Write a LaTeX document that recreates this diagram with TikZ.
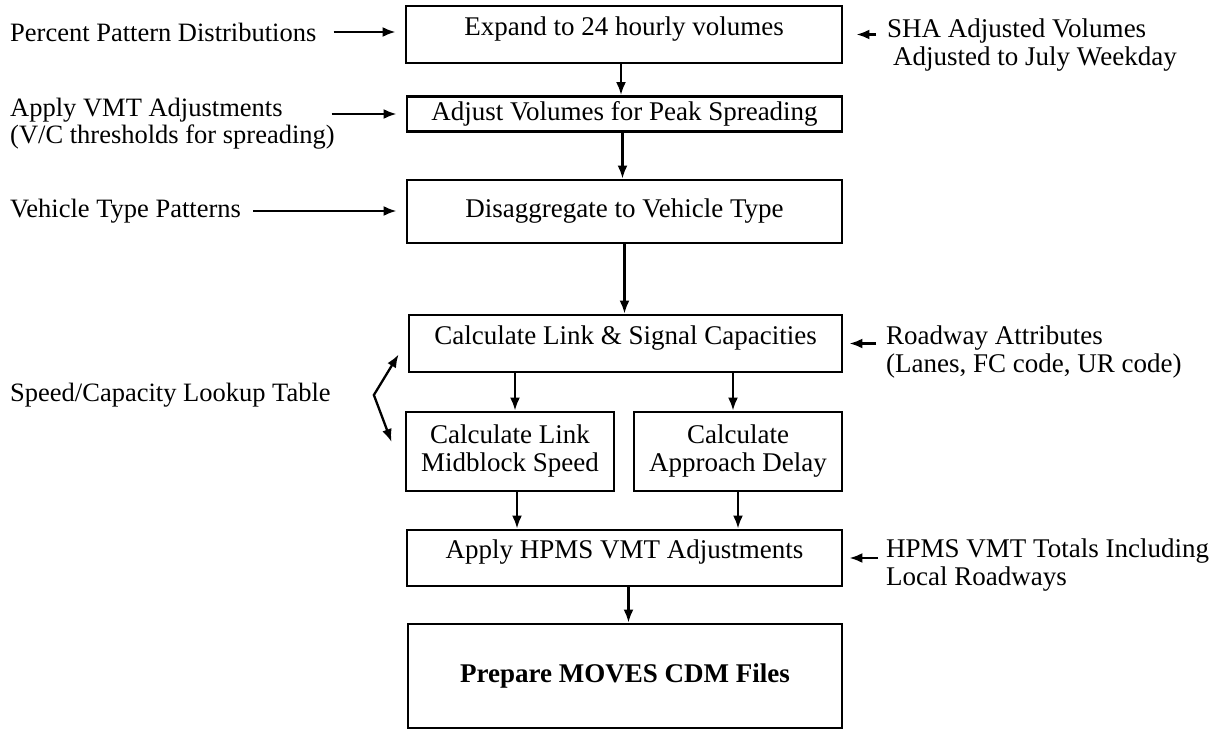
\documentclass[tikz,border=0pt]{standalone}
\usepackage{fontspec}
\setmainfont{Liberation Serif}
\usetikzlibrary{arrows.meta}
\usetikzlibrary{positioning}

\tikzset{
  box/.style={draw, line width=2.9pt, rectangle, inner sep=0pt, align=center},
  upper/.style={text depth=17pt},
  txt/.style={inner sep=0pt, align=left, anchor=west},
  lefttxt/.style={txt, font=\fontsize{26.5}{27}\selectfont},
  arr/.style={line width=2.3pt, -{Latex[length=13pt,width=10pt]}},
  arrs/.style={line width=2.3pt, {Latex[length=13pt,width=10pt]}-{Latex[length=13pt,width=10pt]}}
}

\begin{document}
\begin{tikzpicture}[x=1pt,y=-1pt,font=\fontsize{27}{28}\selectfont]
\useasboundingbox (0,0) rectangle (1216,730);
% main chain of boxes
\node[box, upper, minimum width=436, minimum height=57] (expand) at (624,34.5) {Expand to 24 hourly volumes};
\node[box, minimum width=435, minimum height=35] (peak) at (624.5,114) {Adjust Volumes for Peak Spreading};
\node[box, minimum width=435, minimum height=63] (vtype) at (624.5,211.5) {Disaggregate to Vehicle Type};
\node[box, upper, minimum width=433, minimum height=57] (caps) at (625.5,343.5) {Calculate Link \& Signal Capacities};
\node[box, minimum width=208, minimum height=79] (midspeed) at (510,451.5) {Calculate Link\\Midblock Speed};
\node[box, minimum width=208, minimum height=79] (delay) at (738,451.5) {Calculate\\Approach Delay};
\node[box, upper, minimum width=435, minimum height=56] (hpms) at (624.5,558) {Apply HPMS VMT Adjustments};
\node[box, minimum width=434, minimum height=104, font=\fontsize{27}{28}\selectfont\bfseries] (moves) at (625,676) {Prepare MOVES CDM Files};
% inputs on the left
\node[lefttxt] (pct) at (10,32) {Percent Pattern Distributions};
\node[lefttxt] (vmtadj) at (10,124) {Apply VMT Adjustments\\(V/C thresholds for spreading)};
\node[lefttxt] (vpat) at (10,211) {Vehicle Type Patterns};
\node[lefttxt] (lookup) at (10,395) {Speed/Capacity Lookup Table};
% inputs on the right
\node[txt] (sha) at (887,45) {SHA Adjusted Volumes\\\hspace{6pt}Adjusted to July Weekday};
\node[txt] (road) at (886,352) {Roadway Attributes\\(Lanes, FC code, UR code)};
\node[txt] (hpmstot) at (886,565) {HPMS VMT Totals Including\\Local Roadways};
\coordinate (bend) at ([xshift=43]lookup.east);

% flow down
\draw[arr] ([xshift=-3]expand.south) -- ([xshift=-3]expand.south |- peak.north);
\draw[arr] ([xshift=-2]peak.south) -- ([xshift=-2]peak.south |- vtype.north);
\draw[arr] (vtype.south) -- (vtype.south |- caps.north);
\draw[arr] ([xshift=5]midspeed.north |- caps.south) -- ([xshift=5]midspeed.north);
\draw[arr] ([xshift=-5]delay.north |- caps.south) -- ([xshift=-5]delay.north);
\draw[arr] ([xshift=7]midspeed.south) -- ([xshift=7]midspeed.south |- hpms.north);
\draw[arr] (delay.south) -- (delay.south |- hpms.north);
\draw[arr] ([xshift=4]hpms.south) -- ([xshift=4]hpms.south |- moves.north);
% side inputs
\draw[arr] ([xshift=-71]expand.west |- pct.east) -- ([xshift=-9]pct.east -| expand.west);
\draw[arr] ([xshift=-74]peak.west) -- ([xshift=-9]peak.west);
\draw[arr] ([xshift=12]vpat.east) -- ([xshift=-9]vpat.east -| vtype.west);
\draw[arr] ([xshift=-11]sha.west |- expand.east) -- ([xshift=13]expand.east);
\draw[arr] ([xshift=-10]road.west |- caps.east) -- ([xshift=6]caps.east);
\draw[arr] ([xshift=-8]hpmstot.west |- hpms.east) -- ([xshift=6]hpms.east);
\draw[arrs] ([xshift=-9,yshift=-11]caps.west) -- (bend) -- ([xshift=-13,yshift=9.5]midspeed.west);
\end{tikzpicture}
\end{document}
